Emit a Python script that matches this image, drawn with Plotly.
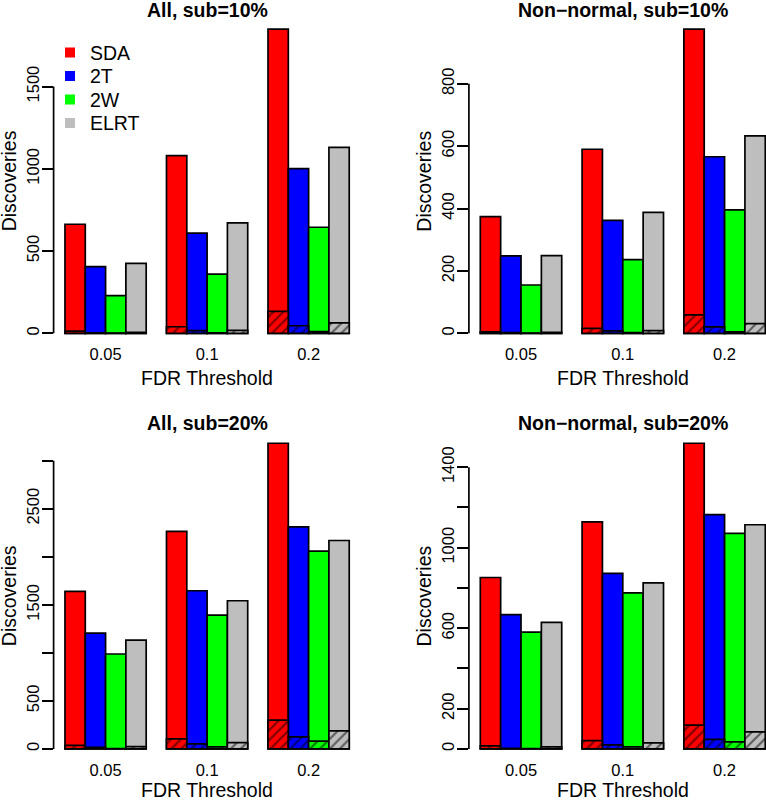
import plotly.graph_objects as go
from plotly.subplots import make_subplots

thresholds = ["0.05", "0.1", "0.2"]
methods = ["SDA", "2T", "2W", "ELRT"]
colors = {"SDA": "#FF0000", "2T": "#0000FF", "2W": "#00FF00", "ELRT": "#BEBEBE"}

titles = ["All, sub=10%", "Non\u2212normal, sub=10%", "All, sub=20%", "Non\u2212normal, sub=20%"]

# total discoveries per method (by threshold 0.05, 0.1, 0.2) and hatched (false) part
all10_total = {"SDA": [663, 1080, 1849], "2T": [405, 609, 1001], "2W": [229, 360, 645], "ELRT": [425, 672, 1130]}
all10_false = {"SDA": [13, 40, 134], "2T": [3, 16, 46], "2W": [1, 3, 10], "ELRT": [6, 18, 64]}

nn10_total = {"SDA": [374, 590, 975], "2T": [248, 362, 566], "2W": [155, 236, 396], "ELRT": [249, 388, 633]}
nn10_false = {"SDA": [5, 16, 59], "2T": [2, 8, 21], "2W": [1, 2, 5], "ELRT": [3, 9, 31]}

all20_total = {"SDA": [1640, 2263, 3181], "2T": [1206, 1646, 2311], "2W": [988, 1393, 2058], "ELRT": [1133, 1542, 2169]}
all20_false = {"SDA": [37, 106, 301], "2T": [16, 52, 125], "2W": [5, 22, 82], "ELRT": [24, 67, 189]}

nn20_total = {"SDA": [852, 1128, 1519], "2T": [667, 872, 1164], "2W": [581, 776, 1071], "ELRT": [629, 825, 1114]}
nn20_false = {"SDA": [15, 41, 118], "2T": [3, 20, 48], "2W": [2, 10, 35], "ELRT": [10, 30, 85]}

tick_vals = [
    [0, 500, 1000, 1500],
    [0, 200, 400, 600, 800],
    [0, 500, 1000, 1500, 2000, 2500, 3000],
    [0, 200, 400, 600, 800, 1000, 1200, 1400],
]
tick_text = [
    ["0", "500", "1000", "1500"],
    ["0", "200", "400", "600", "800"],
    ["0", "500", "", "1500", "", "2500", ""],
    ["0", "200", "", "600", "", "1000", "", "1400"],
]

panels = [(all10_total, all10_false), (nn10_total, nn10_false),
          (all20_total, all20_false), (nn20_total, nn20_false)]

W, H = 766, 801
FONT = "Liberation Sans, Arial, Helvetica, sans-serif"
LW = 1.7

fig = make_subplots(rows=2, cols=2)

# plot regions in pixels (left, right, top, bottom)
regions = [
    (53.6, 360.6, 17.0, 345.5),
    (468.9, 766.0, 17.0, 345.5),
    (53.6, 360.6, 431.0, 761.2),
    (468.9, 766.0, 431.0, 761.2),
]
xranges = [(-0.512, 2.512), (-0.512, 2.407), (-0.512, 2.512), (-0.512, 2.407)]

for i, (tot, fal) in enumerate(panels):
    r, c = i // 2 + 1, i % 2 + 1
    for m in methods:
        fig.add_trace(go.Bar(
            x=thresholds, y=tot[m], offsetgroup=m, showlegend=False,
            marker=dict(color=colors[m], line=dict(color="black", width=LW)),
            hoverinfo="skip"), row=r, col=c)
    for m in methods:
        fig.add_trace(go.Bar(
            x=thresholds, y=fal[m], offsetgroup=m, showlegend=False,
            marker=dict(color=colors[m], line=dict(color="black", width=LW),
                        pattern=dict(shape="/", fgcolor="black", bgcolor=colors[m],
                                     size=7, solidity=0.32, fillmode="overlay")),
            hoverinfo="skip"), row=r, col=c)

# legend entries, one legend per row for exact spacing
legend_rows = [52.7, 76.2, 99.7, 123.2]
legend_layout = {}
for k, m in enumerate(methods):
    lname = "legend" if k == 0 else "legend%d" % (k + 1)
    fig.add_trace(go.Scatter(x=[None], y=[None], mode="markers", name=m,
                             marker=dict(symbol="square", size=10, color=colors[m]),
                             showlegend=True, legend=lname), row=1, col=1)
    legend_layout[lname] = dict(x=50 / W, y=1 - legend_rows[k] / H, xanchor="left", yanchor="middle",
                                bgcolor="rgba(0,0,0,0)", borderwidth=0,
                                font=dict(family=FONT, size=19.5, color="black"))

annotations = []
shapes = []
for i, (tot, fal) in enumerate(panels):
    left, right, top, bottom = regions[i]
    ax = "" if i == 0 else str(i + 1)
    M = max(max(v) for v in tot.values())
    fig.layout["xaxis" + ax].update(
        domain=[left / W, right / W], range=list(xranges[i]),
        showline=False, showgrid=False, zeroline=False, ticks="",
        ticklabelstandoff=-3,
        tickfont=dict(family=FONT, size=16.5, color="black"))
    fig.layout["yaxis" + ax].update(
        domain=[1 - bottom / H, 1 - top / H], range=[-0.04 * M, 1.04 * M],
        showline=False, showgrid=False, zeroline=False,
        ticks="outside", ticklen=11, tickwidth=LW, tickcolor="black",
        tickvals=tick_vals[i], ticktext=tick_text[i], tickangle=-90,
        ticklabelstandoff=-4,
        tickfont=dict(family=FONT, size=16.5, color="black"))
    xref = "x" + ax + " domain"
    yref = "y" + ax
    shapes.append(dict(type="line", xref=xref, yref=yref, x0=0, x1=0,
                       y0=0, y1=tick_vals[i][-1], line=dict(color="black", width=LW)))
    # center of the (uncut) plot region for titles
    full_right = left + (right - left) * (3.024 / (xranges[i][1] - xranges[i][0]))
    cx = (left + full_right) / 2
    cy = (top + bottom) / 2
    annotations.append(dict(text="<b>" + titles[i] + "</b>", x=cx / W, y=1 - (top - 7.5) / H,
                            xref="paper", yref="paper", showarrow=False,
                            xanchor="center", yanchor="middle",
                            font=dict(family=FONT, size=19.5, color="black")))
    annotations.append(dict(text="FDR Threshold", x=cx / W, y=1 - min(bottom + 33, 790) / H,
                            xref="paper", yref="paper", showarrow=False,
                            xanchor="center", yanchor="middle",
                            font=dict(family=FONT, size=19.5, color="black")))
    annotations.append(dict(text="Discoveries", x=(left - 44.5) / W, y=1 - cy / H,
                            xref="paper", yref="paper", showarrow=False, textangle=-90,
                            xanchor="center", yanchor="middle",
                            font=dict(family=FONT, size=19.5, color="black")))

fig.update_layout(
    width=W, height=H, margin=dict(l=0, r=0, t=0, b=0),
    paper_bgcolor="white", plot_bgcolor="white",
    barmode="group", bargap=0.2, bargroupgap=0,
    annotations=annotations, shapes=shapes,
    font=dict(family=FONT, color="black"),
    **legend_layout,
)

fig.write_html("out.html", config={"displayModeBar": False},
               post_script="document.body.style.margin='0';document.body.style.overflow='hidden';")
